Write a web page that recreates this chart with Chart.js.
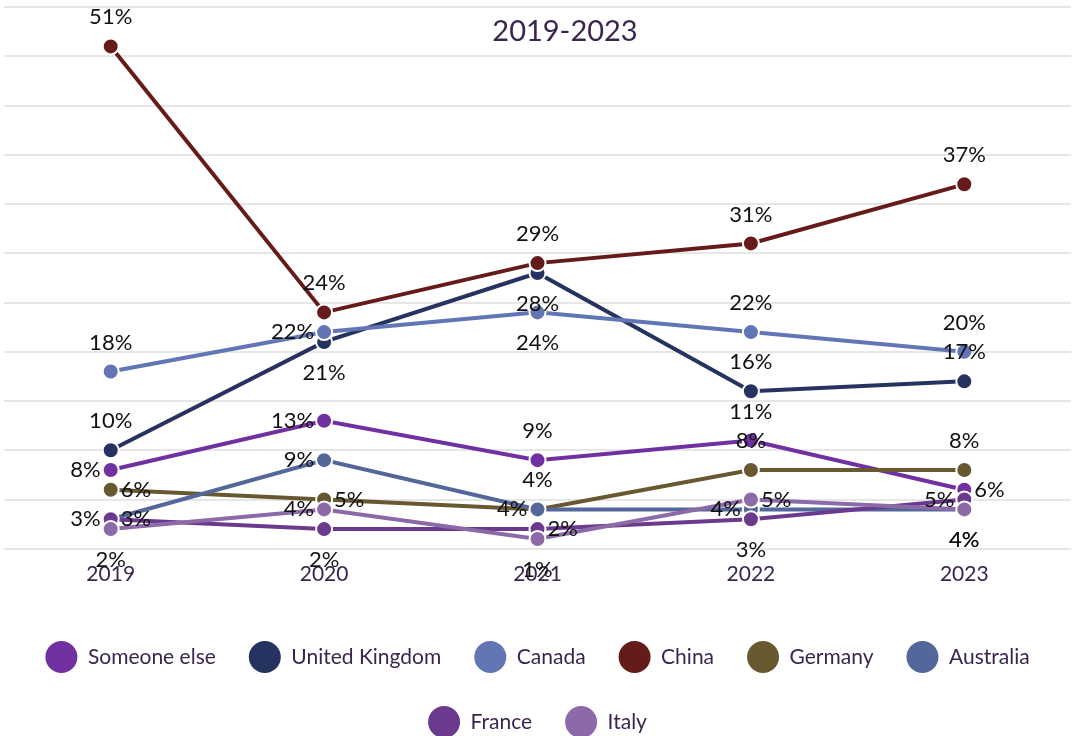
<!DOCTYPE html>
<html>
<head>
<meta charset="utf-8">
<title>2019-2023</title>
<script src="https://cdn.jsdelivr.net/npm/chart.js@4"></script>
<style>
  html, body { margin: 0; padding: 0; background: #fff; }
  #wrap { width: 1075px; height: 736px; position: relative; }
</style>
</head>
<body>
<div id="wrap"><canvas id="lineChart"></canvas></div>
<script>
// data (percent)
var years = ['2019', '2020', '2021', '2022', '2023'];
var seriesNames = ['Someone else', 'United Kingdom', 'Canada', 'China', 'Germany', 'Australia', 'France', 'Italy'];
var someoneElse   = [8, 13, 9, 11, 6];
var unitedKingdom = [10, 21, 28, 16, 17];
var canada        = [18, 22, 24, 22, 20];
var china         = [51, 24, 29, 31, 37];
var germany       = [6, 5, 4, 8, 8];
var australia     = [3, 9, 4, 4, 4];
var france        = [3, 2, 2, 3, 5];
var italy         = [2, 4, 1, 5, 4];

var seriesValues = [someoneElse, unitedKingdom, canada, china, germany, australia, france, italy];
var seriesColors = ['#7030a0', '#263260', '#6275b4', '#661b1b', '#675830', '#53679a', '#6b3a8e', '#8c69a8'];

// where each value label sits around its point
var labelPlaces = [
    ['left', 'left', 'top', 'top', 'right'],
    ['top', 'bottom', 'bottom', 'top', 'top'],
    ['top', 'left', 'bottom', 'top', 'top'],
    ['top', 'top', 'top', 'top', 'top'],
    ['right', 'right', 'left', 'top', 'top'],
    ['right', 'left', 'top', 'left', 'bottom'],
    ['left', 'bottom', 'right', 'bottom', 'left'],
    ['bottom', 'left', 'bottom', 'right', 'bottom']
];

var textPurple = '#3b2550';
var fontName = 'Lato, "Noto Sans", sans-serif';

var datasets = [];
for (var i = 0; i < seriesNames.length; i++) {
    datasets.push({
        label: seriesNames[i],
        data: seriesValues[i],
        labelPlaces: labelPlaces[i],
        borderColor: seriesColors[i],
        backgroundColor: seriesColors[i],
        pointBackgroundColor: seriesColors[i],
        pointBorderColor: '#ffffff',
        pointBorderWidth: 2,
        pointRadius: 8,
        pointHoverRadius: 8,
        borderWidth: 4,
        tension: 0,
        clip: false,
        order: seriesNames.length - 1 - i
    });
}

// value labels drawn next to every point
var valueLabels = {
    id: 'valueLabels',
    afterDatasetsDraw: function (chart) {
        var ctx = chart.ctx;
        ctx.save();
        ctx.font = '22px ' + fontName;
        ctx.fillStyle = '#111111';
        chart.data.datasets.forEach(function (ds, i) {
            var meta = chart.getDatasetMeta(i);
            meta.data.forEach(function (pt, j) {
                var place = ds.labelPlaces[j];
                var txt = ds.data[j] + '%';
                var x = pt.x, y = pt.y;
                ctx.textBaseline = 'middle';
                if (place === 'top') {
                    ctx.textAlign = 'center';
                    y = y - 29;
                } else if (place === 'bottom') {
                    ctx.textAlign = 'center';
                    y = y + 31;
                } else if (place === 'left') {
                    ctx.textAlign = 'right';
                    x = x - 10;
                } else {
                    ctx.textAlign = 'left';
                    x = x + 10;
                }
                ctx.fillText(txt, x, y);
            });
        });
        ctx.restore();
    }
};

// title sits inside the plot, above the lines
var insideTitle = {
    id: 'insideTitle',
    afterDraw: function (chart) {
        var ctx = chart.ctx;
        ctx.save();
        ctx.font = '29px ' + fontName;
        ctx.fillStyle = textPurple;
        ctx.textAlign = 'center';
        ctx.textBaseline = 'middle';
        ctx.fillText('2019-2023', 565, 32);
        ctx.restore();
    }
};

var ctx = document.getElementById('lineChart').getContext('2d');
var lineChart = new Chart(ctx, {
    type: 'line',
    data: {
        labels: years,
        datasets: datasets
    },
    options: {
        responsive: true,
        maintainAspectRatio: false,
        animation: false,
        layout: { autoPadding: false, padding: { top: 7, left: 4, right: 4, bottom: -12 } },
        scales: {
            x: {
                offset: true,
                grid: { display: false },
                border: { display: false },
                ticks: { color: textPurple, font: { family: fontName, size: 21 }, padding: 5 },
                afterFit: function (scale) { scale.height += 16; }
            },
            y: {
                min: 0,
                max: 55,
                ticks: { display: false, stepSize: 5 },
                grid: { color: '#e6e6e6', lineWidth: 2, drawTicks: false },
                border: { display: false }
            }
        },
        plugins: {
            tooltip: { enabled: false },
            legend: {
                position: 'bottom',
                labels: {
                    boxWidth: 32,
                    boxHeight: 32,
                    useBorderRadius: true,
                    borderRadius: 16,
                    padding: 33,
                    color: textPurple,
                    font: { family: fontName, size: 21 },
                    generateLabels: function (chart) {
                        var items = Chart.defaults.plugins.legend.labels.generateLabels(chart);
                        items.sort(function (a, b) { return a.datasetIndex - b.datasetIndex; });
                        items.forEach(function (it) { it.lineWidth = 0; });
                        return items;
                    }
                }
            }
        }
    },
    plugins: [valueLabels, insideTitle]
});
</script>
</body>
</html>
